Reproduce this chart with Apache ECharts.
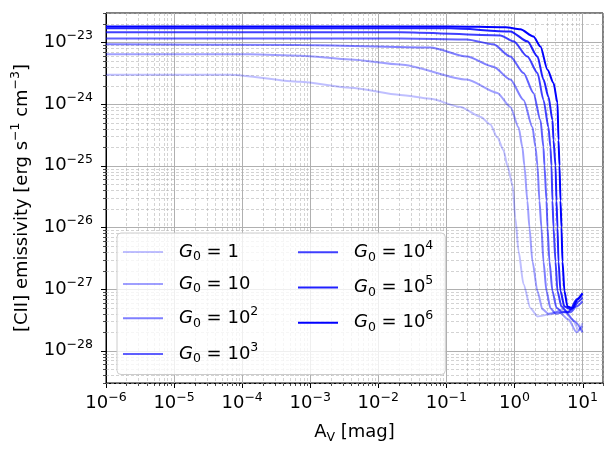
<!DOCTYPE html>
<html><head><meta charset="utf-8">
<script src="https://cdn.jsdelivr.net/npm/echarts@6/dist/echarts.min.js"></script>
<style>html,body{margin:0;padding:0;background:#fff}#c{width:615px;height:453px}</style>
</head><body><div id="c"></div>
<script>
// ---- data ----
const seriesNames = ['1', '10', '10^2', '10^3', '10^4', '10^5', '10^6'];
const seriesAlpha = [0.25, 0.375, 0.5, 0.625, 0.75, 0.875, 1.0];

const av_G0_1 = [1e-6, 6.7e-5, 7.1e-4, 3.9e-3, 0.021, 0.058, 0.16, 0.32, 0.44, 0.56, 0.69, 0.79, 0.94, 1.03, 1.15, 1.36, 1.72, 2.18, 3.38, 5.08, 7.13, 8.73, 10];
const em_G0_1 = [3.0e-24, 3.0e-24, 2.3e-24, 1.84e-24, 1.41e-24, 1.22e-24, 9.0e-25, 6.2e-25, 4.7e-25, 2.9e-25, 1.79e-25, 1.0e-25, 4.8e-26, 1.44e-26, 4.1e-27, 1.2e-27, 4.9e-28, 3.6e-28, 3.9e-28, 4.7e-28, 3.2e-28, 2.2e-28, 2.8e-28];

const av_G0_10 = [1e-6, 1.3e-4, 7.1e-4, 3.9e-3, 0.021, 0.20, 0.56, 0.87, 1.15, 1.31, 1.40, 1.55, 1.66, 1.84, 2.18, 2.58, 3.16, 4.44, 6.22, 8.16, 10];
const em_G0_10 = [6.4e-24, 6.4e-24, 6.1e-24, 5.3e-24, 4.4e-24, 2.5e-24, 1.52e-24, 9.0e-25, 4.2e-25, 2.0e-25, 1.0e-25, 2.7e-26, 1.0e-26, 2.8e-27, 9.2e-28, 4.7e-28, 4.0e-28, 4.3e-28, 3.2e-28, 2.0e-28, 2.5e-28];

const av_G0_1e2 = [1e-6, 7.1e-4, 0.058, 0.20, 0.49, 0.87, 1.36, 1.84, 2.04, 2.18, 2.33, 2.49, 2.67, 2.96, 3.38, 4.01, 5.62, 7.62, 10];
const em_G0_1e2 = [9.3e-24, 9.1e-24, 8.3e-24, 5.9e-24, 4.05e-24, 2.5e-24, 1.17e-24, 4.2e-25, 2.0e-25, 1.0e-25, 2.7e-26, 1.0e-26, 2.8e-27, 9.2e-28, 4.9e-28, 4.0e-28, 4.3e-28, 3.0e-28, 2.0e-28];

const av_G0_1e3 = [1e-6, 0.021, 0.20, 0.49, 0.87, 1.36, 1.90, 2.41, 2.67, 2.76, 2.96, 3.06, 3.27, 3.62, 4.15, 5.08, 6.66, 8.16, 10];
const em_G0_1e3 = [1.16e-23, 1.16e-23, 1.12e-23, 9.3e-24, 5.9e-24, 3.2e-24, 1.52e-24, 5.5e-25, 2.0e-25, 1.0e-25, 2.7e-26, 1.0e-26, 2.8e-27, 9.2e-28, 5.0e-28, 4.2e-28, 4.2e-28, 5.2e-28, 6.3e-28];

const av_G0_1e4 = [1e-6, 0.021, 0.62, 0.97, 1.55, 2.18, 2.67, 3.16, 3.38, 3.50, 3.62, 3.75, 4.01, 4.29, 4.91, 6.01, 7.38, 8.73, 10];
const em_G0_1e4 = [1.46e-23, 1.46e-23, 1.30e-23, 1.04e-23, 5.9e-24, 3.2e-24, 1.17e-24, 4.2e-25, 2.0e-25, 1.0e-25, 2.7e-26, 1.0e-26, 2.8e-27, 9.2e-28, 5.2e-28, 4.2e-28, 5.0e-28, 6.3e-28, 7.3e-28];

const av_G0_1e5 = [1e-6, 0.115, 0.87, 1.55, 2.18, 2.67, 3.16, 3.62, 3.75, 4.01, 4.15, 4.29, 4.44, 4.75, 5.43, 6.66, 8.16, 10];
const em_G0_1e5 = [1.69e-23, 1.69e-23, 1.51e-23, 1.04e-23, 5.9e-24, 2.5e-24, 1.31e-24, 5.5e-25, 2.6e-25, 1.0e-25, 2.7e-26, 1.0e-26, 2.8e-27, 9.2e-28, 5.2e-28, 4.7e-28, 6.8e-28, 8.5e-28];

const av_G0_1e6 = [1e-6, 0.115, 0.74, 1.22, 1.90, 2.41, 3.06, 3.75, 4.29, 4.44, 4.59, 4.75, 4.91, 5.08, 5.43, 6.01, 7.13, 8.44, 10];
const em_G0_1e6 = [1.82e-23, 1.82e-23, 1.76e-23, 1.63e-23, 1.25e-23, 8.6e-24, 3.6e-24, 2.2e-24, 1.05e-24, 2.6e-25, 1.0e-25, 2.7e-26, 1.0e-26, 2.8e-27, 9.2e-28, 5.2e-28, 4.9e-28, 6.8e-28, 8.5e-28];

const xExtent = [1e-6, 20];
const yExtent = [3e-29, 3e-23];
const xMajorExponents = [-6, -5, -4, -3, -2, -1, 0, 1];
const yMajorExponents = [-28, -27, -26, -25, -24, -23];
const xAxisTitle = '{m|A}{sub|V}{m| [mag]}';
const yAxisTitle = '{m|[CII] emissivity [erg s}{sup|\u22121}{m| cm}{sup|\u22123}{m|]}';

// ---- build ----
const avList = [av_G0_1, av_G0_10, av_G0_1e2, av_G0_1e3, av_G0_1e4, av_G0_1e5, av_G0_1e6];
const emList = [em_G0_1, em_G0_10, em_G0_1e2, em_G0_1e3, em_G0_1e4, em_G0_1e5, em_G0_1e6];

const FONT = 'DejaVu Sans';
// rich-text helpers: token boxes of explicit height inside a line of explicit height
function mainT(L, extra) { return Object.assign({fontFamily: FONT, fontSize: 18, lineHeight: L, height: L, verticalAlign: 'top', color: '#000'}, extra || {}); }
function supT(L) { return {fontFamily: FONT, fontSize: 12.5, lineHeight: L, height: 12.5, verticalAlign: 'top', color: '#000'}; }
function subT(L, h) { return {fontFamily: FONT, fontSize: 12.5, lineHeight: L, height: h, verticalAlign: 'bottom', color: '#000'}; }

function supLabel(v) {
  if (!(v > 0) || !isFinite(v)) return '';
  const e = Math.log10(v);
  const r = Math.round(e);
  if (Math.abs(e - r) > 1e-6) return '';
  return '{b|10}{s|' + (r < 0 ? '\u2212' + (-r) : String(r)) + '}';
}
const tickRich = {b: mainT(25), s: supT(25)};
const legendRich = {
  g0: mainT(22, {fontStyle: 'italic'}), sub0: subT(22, 12), t0: mainT(22),
  g1: mainT(26, {fontStyle: 'italic'}), sub1: subT(26, 16), t1: mainT(26), sup1: supT(26)
};
function legendFmt(name) {
  const parts = name.split('^');
  if (!parts[1]) return '{g0|G}{sub0|0}{t0| = ' + parts[0] + '}';
  return '{g1|G}{sub1|0}{t1| = ' + parts[0] + '}{sup1|' + parts[1] + '}';
}

const lineSeries = seriesNames.map((n, i) => ({
  name: n,
  type: 'line',
  data: avList[i].map((x, j) => [x, emList[i][j]]),
  showSymbol: false,
  symbol: 'none',
  smooth: 0.25,
  smoothMonotone: 'x',
  z: 3,
  color: 'rgba(0,0,255,' + seriesAlpha[i] + ')',
  lineStyle: {width: 2, color: 'rgba(0,0,255,' + seriesAlpha[i] + ')'}
}));

// tick / minor grid descriptors: [x, y, kind]
const tickData = [];
xMajorExponents.forEach(e => tickData.push([Math.pow(10, e), yExtent[0], 1]));
yMajorExponents.forEach(e => tickData.push([xExtent[0], Math.pow(10, e), 3]));
for (let e = -7; e <= 2; e++) for (let m = 2; m <= 9; m++) {
  const v = m * Math.pow(10, e);
  if (v >= xExtent[0] * 0.9999 && v <= xExtent[1] * 1.0001) tickData.push([v, yExtent[0], 0]);
}
for (let e = -30; e <= -22; e++) for (let m = 2; m <= 9; m++) {
  const v = m * Math.pow(10, e);
  if (v >= yExtent[0] * 0.9999 && v <= yExtent[1] * 1.0001) tickData.push([xExtent[0], v, 2]);
}

const tickSeries = {
  type: 'custom',
  name: '_ticks',
  data: tickData,
  clip: false,
  silent: true,
  z: 1,
  encode: {x: 0, y: 1},
  renderItem(params, api) {
    const cs = params.coordSys;
    const kind = api.value(2);
    const p = api.coord([api.value(0), api.value(1)]);
    const ch = [];
    const minorGrid = {stroke: 'rgba(176,176,176,0.8)', lineWidth: 0.7, lineDash: [3, 2]};
    if (kind <= 1) {
      const x = Math.round(p[0]) + 0.5;
      const b = cs.y + cs.height;
      if (kind === 0) ch.push({type: 'line', shape: {x1: x, y1: cs.y, x2: x, y2: b}, style: minorGrid});
      ch.push({type: 'line', shape: {x1: x, y1: b, x2: x, y2: b + (kind === 1 ? 5 : 3)}, style: {stroke: '#000', lineWidth: kind === 1 ? 1 : 0.7}});
    } else {
      const y = Math.round(p[1]) + 0.5;
      const l = cs.x;
      if (kind === 2) ch.push({type: 'line', shape: {x1: l, y1: y, x2: l + cs.width, y2: y}, style: minorGrid});
      ch.push({type: 'line', shape: {x1: l, y1: y, x2: l - (kind === 3 ? 5 : 3), y2: y}, style: {stroke: '#000', lineWidth: kind === 3 ? 1 : 0.7}});
    }
    return {type: 'group', children: ch};
  }
};

const legendCommon = {
  orient: 'vertical',
  icon: 'rect',
  itemWidth: 40,
  itemHeight: 2,
  formatter: legendFmt,
  selectedMode: false,
  textStyle: {rich: legendRich, padding: [0, 0, 0, 11]}
};

const option = {
  animation: false,
  backgroundColor: '#fff',
  grid: {left: 106, right: 12, top: 13, bottom: 70, containLabel: false, outerBoundsMode: 'none',
    show: true, borderColor: '#000', borderWidth: 1, backgroundColor: 'transparent'},
  xAxis: {
    type: 'log', logBase: 10, min: xExtent[0], max: xExtent[1], splitNumber: 10,
    name: xAxisTitle, nameLocation: 'middle', nameGap: 37, nameMoveOverlap: false,
    nameTextStyle: {color: '#000', rich: {m: mainT(24), sub: subT(24, 12)}},
    axisLine: {show: true, lineStyle: {color: '#000', width: 1}},
    axisTick: {show: false},
    axisLabel: {formatter: supLabel, rich: tickRich, margin: 8, showMinLabel: true, showMaxLabel: true, hideOverlap: false},
    splitLine: {show: true, showMinLine: false, showMaxLine: false, lineStyle: {color: '#b0b0b0', width: 1}}
  },
  yAxis: {
    type: 'log', logBase: 10, min: yExtent[0], max: yExtent[1], splitNumber: 10,
    name: yAxisTitle, nameLocation: 'middle', nameGap: 71.5, nameMoveOverlap: false,
    nameTextStyle: {color: '#000', rich: {m: mainT(25), sup: supT(25)}},
    axisLine: {show: true, lineStyle: {color: '#000', width: 1}},
    axisTick: {show: false},
    axisLabel: {formatter: supLabel, rich: tickRich, margin: 13, showMinLabel: true, showMaxLabel: true, hideOverlap: false},
    splitLine: {show: true, showMinLine: false, showMaxLine: false, lineStyle: {color: '#b0b0b0', width: 1}}
  },
  legend: [
    Object.assign({}, legendCommon, {
      data: seriesNames.slice(0, 4), left: 117, top: 233, itemGap: 9.5,
      padding: [8, 187, 7.5, 6],
      backgroundColor: 'rgba(255,255,255,0.8)', borderColor: '#cccccc', borderWidth: 1, borderRadius: 4, z: 10
    }),
    Object.assign({}, legendCommon, {
      data: seriesNames.slice(4), left: 298, top: 239, itemGap: 9, padding: 0, z: 11
    })
  ],
  series: [tickSeries].concat(lineSeries)
};

const chart = echarts.init(document.getElementById('c'), null, {renderer: 'canvas'});
chart.setOption(option);
</script>
</body></html>
